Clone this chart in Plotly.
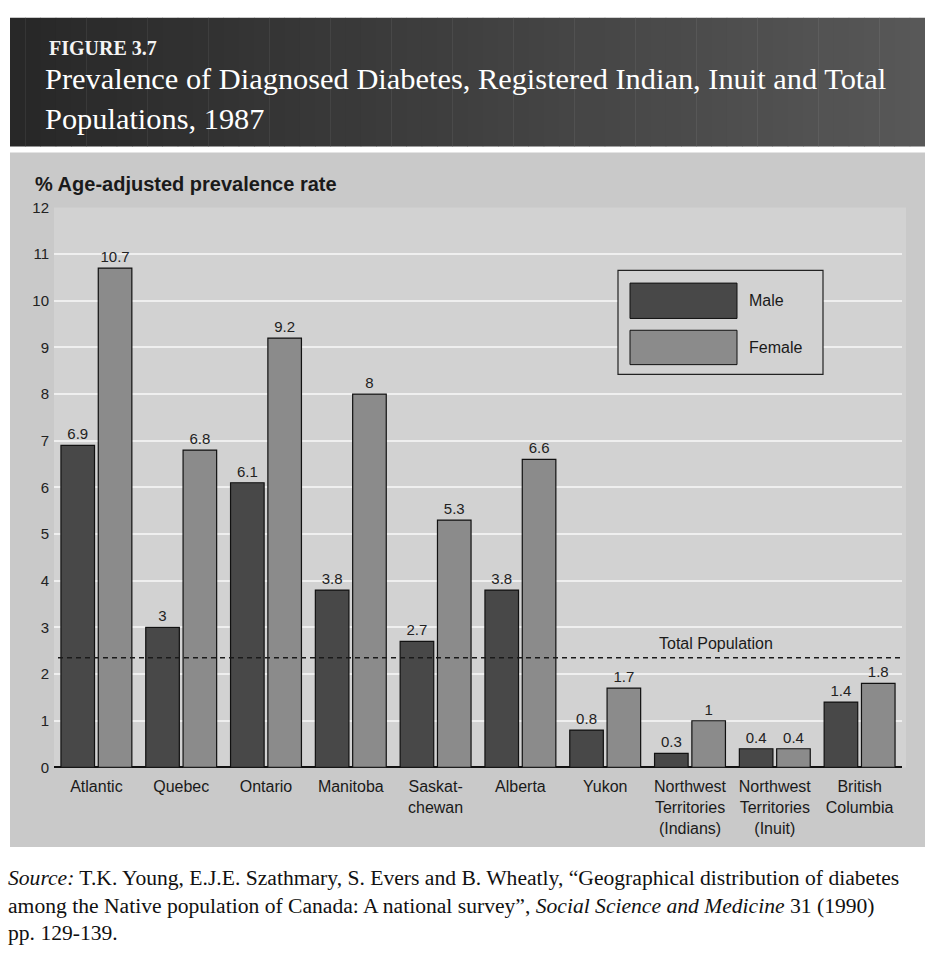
import plotly.graph_objects as go

# ---------------- data ----------------
categories = ["Atlantic", "Quebec", "Ontario", "Manitoba", "Saskatchewan", "Alberta",
              "Yukon", "Northwest Territories (Indians)", "Northwest Territories (Inuit)",
              "British Columbia"]
tick_labels = ["Atlantic", "Quebec", "Ontario", "Manitoba", "Saskat-<br>chewan", "Alberta",
               "Yukon", "Northwest<br>Territories<br>(Indians)", "Northwest<br>Territories<br>(Inuit)",
               "British<br>Columbia"]
male = [6.9, 3, 6.1, 3.8, 2.7, 3.8, 0.8, 0.3, 0.4, 1.4]
female = [10.7, 6.8, 9.2, 8, 5.3, 6.6, 1.7, 1, 0.4, 1.8]
total_population = 2.35
y_ticks = list(range(0, 13))
series_names = ["Male", "Female"]

# ---------------- styles ----------------
W, H = 925, 967
MALE_C = "#484848"
FEMALE_C = "#8b8b8b"
PANEL_C = "#c9c9c9"
PLOT_C = "#d2d2d2"
SANS = "Liberation Sans, Arial, sans-serif"
SERIF = "Liberation Serif, Times New Roman, serif"


def px(x):
    return x / W


def py(y):
    return 1 - y / H


X_DOM = [px(54), px(902)]
Y_DOM = [py(772), py(202)]

fig = go.Figure()
for name, vals, col in [(series_names[0], male, MALE_C), (series_names[1], female, FEMALE_C)]:
    fig.add_trace(go.Bar(
        x=categories, y=vals, name=name,
        marker=dict(color=col, line=dict(color="#111111", width=1.2)),
        texttemplate="%{y}", textposition="outside",
        textfont=dict(family=SANS, size=15, color="#222222"),
        cliponaxis=False, showlegend=False, hoverinfo="skip",
    ))

shapes = []
# header gradient band
n = 60
x0h, x1h = 10, W
c0, c1 = (0x28, 0x28, 0x28), (0x58, 0x58, 0x58)
for i in range(n):
    t = i / (n - 1)
    c = tuple(int(c0[k] + (c1[k] - c0[k]) * t) for k in range(3))
    xa = x0h + (x1h - x0h) * i / n
    xb = x0h + (x1h - x0h) * (i + 1) / n + 0.5
    shapes.append(dict(type="rect", xref="paper", yref="paper", x0=px(xa), x1=px(xb),
                       y0=py(140), y1=py(9), fillcolor="rgb(%d,%d,%d)" % c,
                       line=dict(width=0), layer="below"))
# chart panel
shapes.append(dict(type="rect", xref="paper", yref="paper", x0=px(10), x1=1.0,
                   y0=py(853), y1=py(146), fillcolor=PANEL_C, line=dict(width=0), layer="below"))
# plot area
shapes.append(dict(type="rect", xref="paper", yref="paper", x0=X_DOM[0], x1=px(906),
                   y0=Y_DOM[0], y1=Y_DOM[1], fillcolor=PLOT_C, line=dict(width=0), layer="below"))
# total population reference line
shapes.append(dict(type="line", xref="paper", yref="y", x0=X_DOM[0] + px(4), x1=px(904),
                   y0=total_population, y1=total_population,
                   line=dict(color="#1a1a1a", width=1.6, dash="5px,4px"), layer="above"))
# custom legend
shapes.append(dict(type="rect", xref="paper", yref="paper", x0=px(618), x1=px(823),
                   y0=py(372), y1=py(266), fillcolor=PLOT_C,
                   line=dict(color="#222222", width=1.2), layer="above"))
shapes.append(dict(type="rect", xref="paper", yref="paper", x0=px(630), x1=px(737),
                   y0=py(315), y1=py(279), fillcolor=MALE_C,
                   line=dict(color="#111111", width=1), layer="above"))
shapes.append(dict(type="rect", xref="paper", yref="paper", x0=px(630), x1=px(737),
                   y0=py(362), y1=py(327), fillcolor=FEMALE_C,
                   line=dict(color="#111111", width=1), layer="above"))

SRC = 21.6
annotations = [
    dict(text="<b>FIGURE 3.7</b>", x=px(47), y=py(40), xanchor="left", yanchor="middle",
         font=dict(family=SERIF, size=20, color="#f4f4f4")),
    dict(text="Prevalence of Diagnosed Diabetes, Registered Indian, Inuit and Total<br>Populations, 1987",
         x=px(43), y=py(92), xanchor="left", yanchor="middle", align="left",
         font=dict(family=SERIF, size=30.4, color="white")),
    dict(text="<b>% Age-adjusted prevalence rate</b>", x=px(33), y=py(178),
         xanchor="left", yanchor="middle", font=dict(family=SANS, size=20, color="#1a1a1a")),
    dict(text="Total Population", x=px(716), y=py(646), xanchor="center", yanchor="middle",
         font=dict(family=SANS, size=16, color="#1a1a1a")),
    dict(text=series_names[0], x=px(747), y=py(297), xanchor="left", yanchor="middle",
         font=dict(family=SANS, size=16, color="#1a1a1a")),
    dict(text=series_names[1], x=px(747), y=py(345), xanchor="left", yanchor="middle",
         font=dict(family=SANS, size=16, color="#1a1a1a")),
    dict(text="<i>Source:</i> T.K. Young, E.J.E. Szathmary, S. Evers and B. Wheatly, \u201cGeographical distribution of diabetes",
         x=px(6), y=py(885), xanchor="left", yanchor="middle",
         font=dict(family=SERIF, size=SRC, color="#111111")),
    dict(text="among the Native population of Canada: A national survey\u201d, <i>Social Science and Medicine</i> 31 (1990)",
         x=px(6), y=py(913), xanchor="left", yanchor="middle",
         font=dict(family=SERIF, size=SRC, color="#111111")),
    dict(text="pp. 129-139.", x=px(6), y=py(941), xanchor="left", yanchor="middle",
         font=dict(family=SERIF, size=SRC, color="#111111")),
]
for a in annotations:
    a.update(xref="paper", yref="paper", showarrow=False)

fig.update_layout(
    width=W, height=H, margin=dict(l=0, r=0, t=0, b=0),
    paper_bgcolor="white", plot_bgcolor="rgba(0,0,0,0)",
    barmode="group", bargap=0.12, bargroupgap=0.1,
    shapes=shapes, annotations=annotations, showlegend=False,
    xaxis=dict(domain=X_DOM, tickvals=categories, ticktext=tick_labels,
               tickfont=dict(family=SANS, size=16, color="#1a1a1a"),
               showgrid=False, showline=False, ticks="", ticklabelstandoff=8),
    yaxis=dict(domain=Y_DOM, range=[0, 12], tickvals=y_ticks,
               tickfont=dict(family=SANS, size=15, color="#222222"),
               showgrid=True, gridcolor="#efefef", gridwidth=1.5,
               zeroline=True, zerolinecolor="#111111", zerolinewidth=2,
               showline=False, ticks="", ticklabelstandoff=4),
)

fig.write_html("out.html", config={"displayModeBar": False},
               post_script="document.body.style.margin='0';")
